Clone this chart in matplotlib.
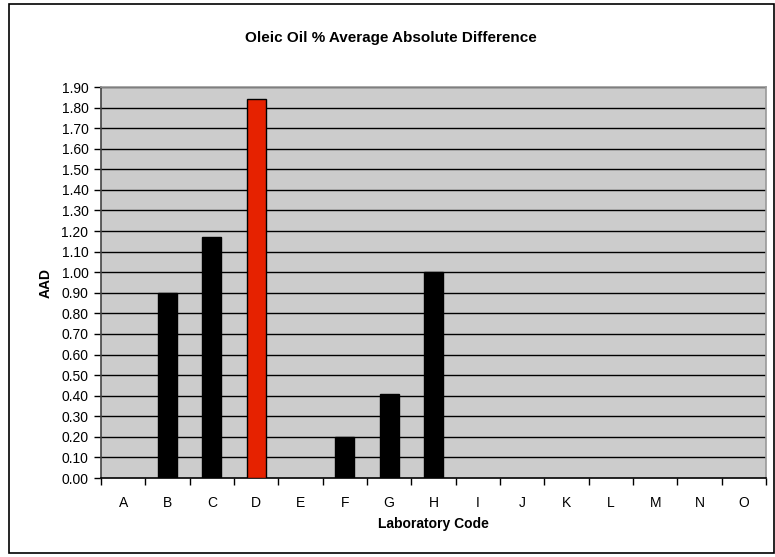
import matplotlib
matplotlib.use("Agg")
import matplotlib.pyplot as plt
import numpy as np
from matplotlib.patches import Rectangle

categories = ["A", "B", "C", "D", "E", "F", "G", "H", "I", "J", "K", "L", "M", "N", "O"]
values = [0, 0.90, 1.17, 1.84, 0, 0.20, 0.41, 1.00, 0, 0, 0, 0, 0, 0, 0]
colors = ["black", "black", "black", "#E62200", "black", "black", "black", "black",
          "black", "black", "black", "black", "black", "black", "black"]
yticks = [round(0.1 * i, 2) for i in range(20)]

plt.rcParams['font.family'] = ['Liberation Sans', 'DejaVu Sans']

fig = plt.figure(figsize=(7.75, 5.57), dpi=100)
fig.patches.append(Rectangle((9/775, 1 - 553/557), (774-9)/775, (553-4)/557,
                             transform=fig.transFigure, fill=False, edgecolor='black', lw=1.2))

ax = fig.add_axes([101/775, 1 - 478/557, (766-101)/775, (478-87)/557])
ax.set_facecolor('#CCCCCC')
x = np.arange(len(categories))
for xi, v, c in zip(x, values, colors):
    if v > 0:
        ax.bar(xi, v, width=0.43, color=c, edgecolor='black', linewidth=1.0, zorder=3)

ax.set_xlim(-0.5, len(categories) - 0.5)
ax.set_ylim(0, 1.9)
ax.set_yticks(yticks)
ax.set_yticklabels([f"{t:.2f}" for t in yticks], fontsize=10)
for t in yticks[1:]:
    ax.axhline(t, color='black', lw=1.0, zorder=1)

ax.set_xticks(np.arange(-0.5, len(categories) + 0.5, 1.0))
ax.set_xticklabels([])
ax.set_xticks(x, minor=True)
ax.set_xticklabels(categories, minor=True, fontsize=10)
ax.tick_params(axis='x', which='minor', length=0, pad=13)
ax.tick_params(axis='x', which='major', direction='out', length=5, width=1, color='black')
ax.tick_params(axis='y', direction='out', length=5, width=1, color='black', pad=4)

for side in ['top', 'right']:
    ax.spines[side].set_color('#999999')
    ax.spines[side].set_linewidth(1.2)
ax.spines['left'].set_color('#444444')
ax.spines['bottom'].set_color('black')
ax.spines['left'].set_linewidth(1.2)
ax.spines['bottom'].set_linewidth(1.2)

ax.set_xlabel("Laboratory Code", fontsize=10, fontweight='bold', labelpad=5)
ax.set_ylabel("AAD", fontsize=10, fontweight='bold', labelpad=6)
fig.text(391/775, 1 - 38/557, "Oleic Oil % Average Absolute Difference",
         ha='center', va='center', fontsize=11, fontweight='bold')

fig.savefig("out.png", dpi=100)
